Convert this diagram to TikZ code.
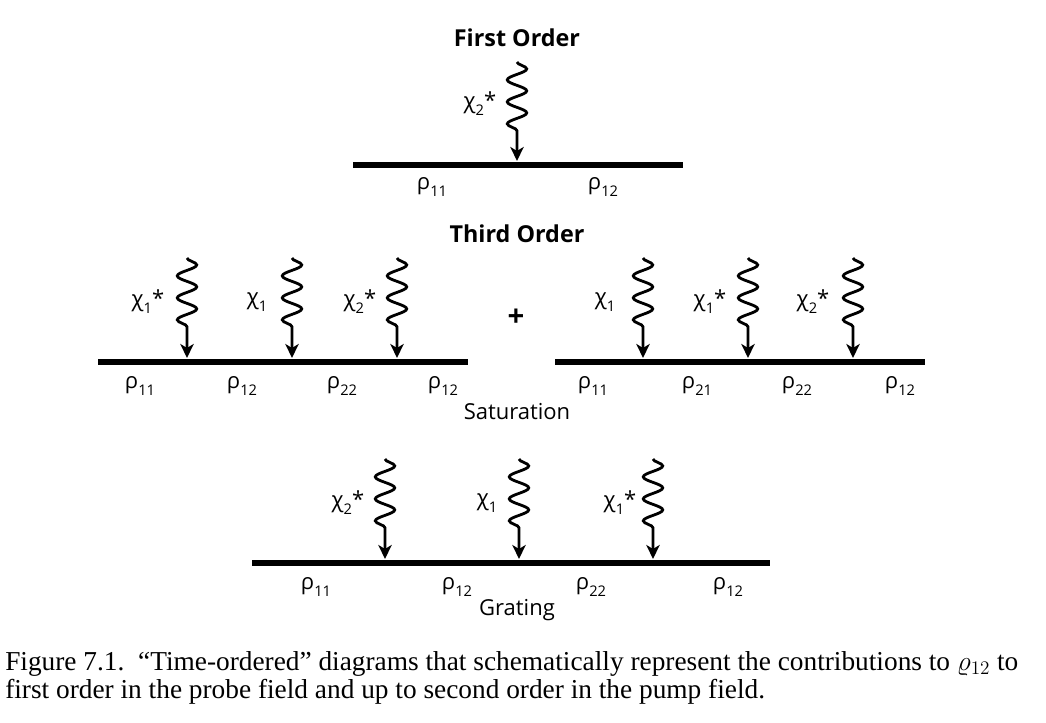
\documentclass[tikz,border=0pt]{standalone}
\usepackage{fontspec}
\setmainfont{Liberation Serif}
\newfontfamily\diagfont{Open Sans}
\usetikzlibrary{arrows.meta,decorations.pathmorphing}
\newcommand\sbs[1]{\raisebox{-0.6ex}{\fontsize{11}{12}\selectfont#1}}

\begin{document}
\begin{tikzpicture}[x=0.75pt,y=-0.75pt,
    bar/.style={line width=3.8pt},
    photon/.style={line width=2.1pt, decorate,
        decoration={snake, amplitude=7.3pt, segment length=16.5pt, post length=17pt},
        -{Stealth[length=10.5pt,width=10pt,inset=3pt]}},
    lbl/.style={font=\diagfont\fontsize{16.5}{19}\selectfont, inner sep=0pt},
    head/.style={font=\diagfont\bfseries\fontsize{17.5}{20}\selectfont, inner sep=0pt}]
    \useasboundingbox (0,0) rectangle (1046,723);

    % first order
    \node[head] (first) at (517,38) {First Order};
    \coordinate (fo-l) at (353,165);
    \coordinate (fo-r) at (683,165);
    \draw[bar] (fo-l) -- (fo-r);
    \coordinate (fo-p) at (517,62);
    \coordinate (fo-t) at (517,161);
    \draw[photon] (fo-p) -- (fo-t);
    \node[lbl] (fo-c) at (480,104) {χ\sbs{2}*};
    \node[lbl] (fo-r1) at (432,187) {ρ\sbs{11}};
    \node[lbl] (fo-r2) at (603,187) {ρ\sbs{12}};

    % third order, saturation
    \node[head] (third) at (517,234) {Third Order};
    \coordinate (sa-l) at (98,362);
    \coordinate (sa-r) at (468,362);
    \draw[bar] (sa-l) -- (sa-r);
    \foreach \x/\n in {187/1, 292/2, 397/3} {
        \coordinate (sa-p\n) at (\x,258);
        \coordinate (sa-t\n) at (\x,358);
        \draw[photon] (sa-p\n) -- (sa-t\n);
    }
    \node[lbl] (sa-c1) at (148,302) {χ\sbs{1}*};
    \node[lbl] (sa-c2) at (257,302) {χ\sbs{1}};
    \node[lbl] (sa-c3) at (360,302) {χ\sbs{2}*};
    \node[lbl] (sa-r1) at (140,386) {ρ\sbs{11}};
    \node[lbl] (sa-r2) at (242,386) {ρ\sbs{12}};
    \node[lbl] (sa-r3) at (342,386) {ρ\sbs{22}};
    \node[lbl] (sa-r4) at (443,386) {ρ\sbs{12}};

    \node[head, font=\diagfont\bfseries\fontsize{22}{24}\selectfont] (plus) at (516,318) {+};

    \coordinate (sb-l) at (555,362);
    \coordinate (sb-r) at (925,362);
    \draw[bar] (sb-l) -- (sb-r);
    \foreach \x/\n in {643/1, 748/2, 853/3} {
        \coordinate (sb-p\n) at (\x,258);
        \coordinate (sb-t\n) at (\x,358);
        \draw[photon] (sb-p\n) -- (sb-t\n);
    }
    \node[lbl] (sb-c1) at (605,302) {χ\sbs{1}};
    \node[lbl] (sb-c2) at (710,302) {χ\sbs{1}*};
    \node[lbl] (sb-c3) at (813,302) {χ\sbs{2}*};
    \node[lbl] (sb-r1) at (593,386) {ρ\sbs{11}};
    \node[lbl] (sb-r2) at (697,386) {ρ\sbs{21}};
    \node[lbl] (sb-r3) at (797,386) {ρ\sbs{22}};
    \node[lbl] (sb-r4) at (900,386) {ρ\sbs{12}};

    \node[lbl] (satur) at (517,412) {Saturation};

    % grating
    \coordinate (gr-l) at (252,563);
    \coordinate (gr-r) at (770,563);
    \draw[bar] (gr-l) -- (gr-r);
    \foreach \x/\n in {385/1, 519/2, 653/3} {
        \coordinate (gr-p\n) at (\x,459);
        \coordinate (gr-t\n) at (\x,559);
        \draw[photon] (gr-p\n) -- (gr-t\n);
    }
    \node[lbl] (gr-c1) at (348,503) {χ\sbs{2}*};
    \node[lbl] (gr-c2) at (487,503) {χ\sbs{1}};
    \node[lbl] (gr-c3) at (620,503) {χ\sbs{1}*};
    \node[lbl] (gr-r1) at (316,587) {ρ\sbs{11}};
    \node[lbl] (gr-r2) at (457,587) {ρ\sbs{12}};
    \node[lbl] (gr-r3) at (591,587) {ρ\sbs{22}};
    \node[lbl] (gr-r4) at (728,587) {ρ\sbs{12}};

    \node[lbl] (grat) at (517,610) {Grating};

    % caption
    \node[anchor=base west, inner sep=0pt, align=left,
        font=\fontsize{20.5}{20.5}\selectfont] (capt) at (5,698)
        {Figure 7.1.\enspace “Time-ordered” diagrams that schematically represent the contributions to $\varrho_{12}$ to\\
        first order in the probe field and up to second order in the pump field.};
\end{tikzpicture}
\end{document}
